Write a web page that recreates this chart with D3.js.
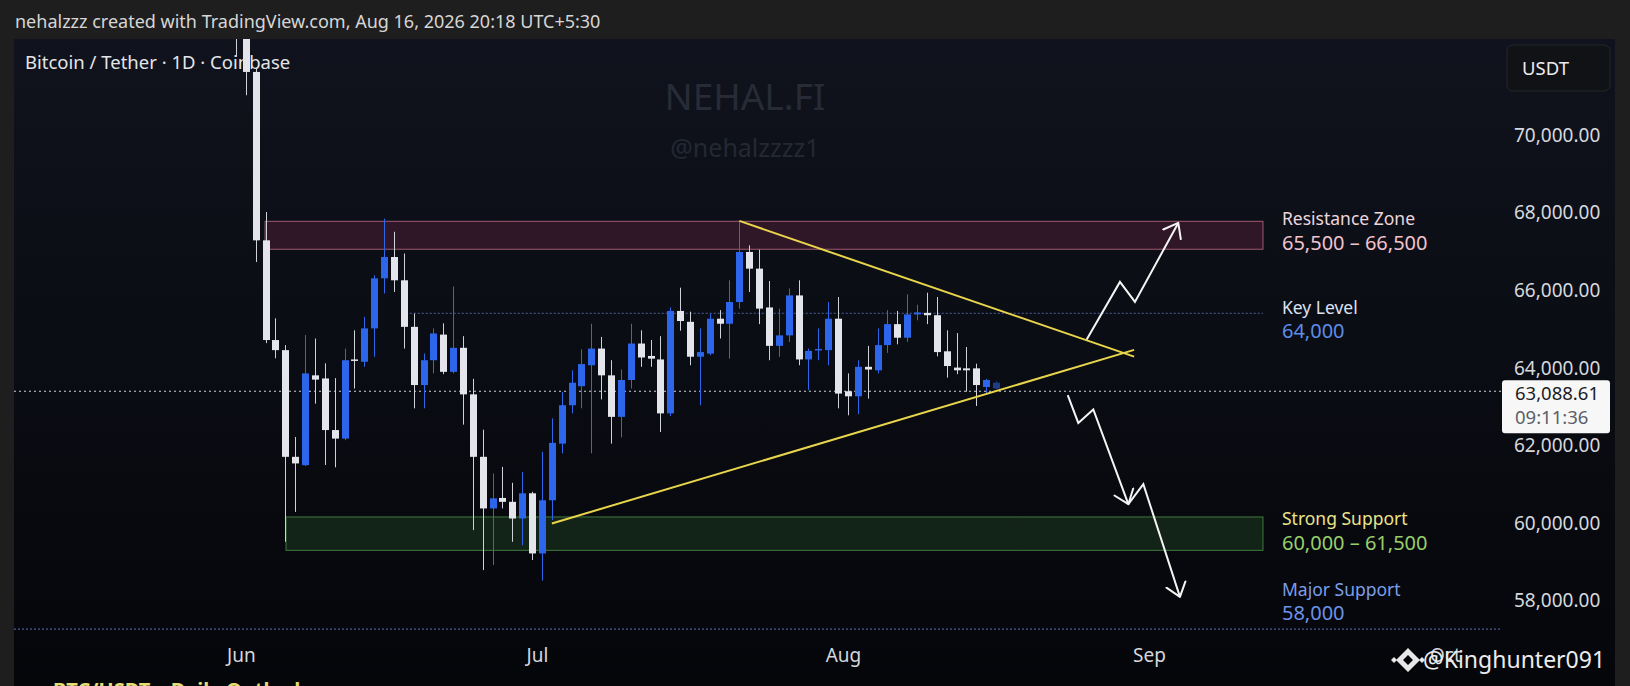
<!DOCTYPE html>
<html>
<head>
<meta charset="utf-8">
<script src="https://cdn.jsdelivr.net/npm/d3@7"></script>
<style>
  html, body { margin: 0; padding: 0; background: #1e1e1e; }
  svg { display: block; }
</style>
</head>
<body>
<svg width="1630" height="686"></svg>
<script>
    // daily BTC/USDT candles, first one is May 31
    const startDate = "2026-05-31";
    const opens  = [73600, 73000, 71610, 67270, 64700, 64440, 61690, 61475, 63790, 63710,
                    62380, 62160, 64200, 64140, 65000, 66290, 66840, 66240, 65040, 63540,
                    64180, 64840, 63880, 64500, 63300, 61690, 60360, 60630, 60530, 60100,
                    60750, 59200, 60570, 62030, 63020, 63510, 64050, 64480, 63790, 62720,
                    63670, 64610, 64290, 64200, 62810, 65450, 65170, 64270, 64350, 65250,
                    65120, 65680, 66970, 66540, 65540, 64550, 64820, 65850, 64200, 64440,
                    64440, 65250, 63380, 63250, 64010, 63920, 64570, 65110, 64760, 65360,
                    65400, 65340, 64410, 63990, 63970, 63970, 63490, 63450];
    const highs  = [74200, 73400, 71700, 68000, 65260, 64570, 62200, 64830, 64740, 64100,
                    63720, 64480, 64950, 65300, 66370, 67830, 67490, 66930, 65380, 64350,
                    65000, 65130, 66080, 64800, 63700, 62390, 61260, 61430, 61020, 61300,
                    60790, 61820, 62680, 63360, 63920, 64460, 65120, 64780, 64180, 63940,
                    65120, 64950, 64700, 64800, 65540, 66050, 65430, 65000, 65380, 65470,
                    66240, 67770, 67140, 67030, 66220, 65510, 66030, 66240, 64480, 65000,
                    65680, 65810, 63840, 64180, 64550, 65000, 65470, 65450, 65880, 65610,
                    65920, 65810, 64950, 64880, 64520, 64090, 63700, 63640];
    const lows   = [72000, 71010, 66710, 64620, 64230, 59500, 60270, 61450, 63060, 61480,
                    61420, 62120, 63450, 64010, 64270, 65900, 65940, 64480, 62940, 62940,
                    63840, 63820, 63840, 62520, 59800, 58770, 58900, 60360, 59500, 59410,
                    59030, 58500, 60060, 61780, 62810, 62940, 61780, 63170, 62030, 62190,
                    63450, 64010, 64010, 62330, 62740, 64940, 64050, 63020, 64310, 64740,
                    64220, 65510, 65940, 65110, 64180, 64270, 64650, 64050, 63410, 64180,
                    64050, 62940, 62760, 62790, 63190, 63840, 64370, 64590, 64650, 65210,
                    65110, 64280, 63730, 63820, 63370, 63000, 63320, 63430];
    const closes = [73200, 71610, 67270, 64700, 64440, 61690, 61520, 63840, 63680, 62380,
                    62160, 64180, 64180, 65000, 66290, 66840, 66240, 65040, 63540, 64180,
                    64870, 63880, 64500, 63300, 61690, 60360, 60620, 60530, 60100, 60750,
                    59200, 60570, 62050, 63020, 63600, 64080, 64480, 63790, 62720, 63670,
                    64610, 64250, 64220, 62810, 65450, 65190, 64270, 64390, 65250, 65120,
                    65680, 66970, 66540, 65510, 64550, 64820, 65850, 64200, 64420, 64470,
                    65250, 63320, 63250, 64010, 63940, 64570, 65110, 64760, 65360, 65410,
                    65340, 64390, 64030, 63920, 63920, 63540, 63670, 63600];

    const priceTicks = [58000, 60000, 62000, 64000, 66000, 68000, 70000];
    const monthTicks = ["2026-06-01", "2026-07-01", "2026-08-01", "2026-09-01", "2026-10-01"];

    // levels: [from day, to day, low, high] with days counted from startDate
    const resistanceZone = [2.95, 104.05, 67040, 67760];
    const supportZone    = [5.07, 104.05, 59280, 60140];
    const keyLevel       = [17.6, 104.05, 65390];
    const lastPrice      = 63380;
    const majorLine      = 57250;

    // triangle and projection arrows: [day, price]
    const upperTrend = [[51, 67770], [91, 64273]];
    const lowerTrend = [[32, 59972], [91, 64446]];
    const upArrow    = [[86.19, 64714], [89.56, 66198], [91.08, 65683], [95.47, 67719]];
    const downArrowA = [[84.27, 63278], [85.34, 62564], [86.86, 62910], [90.41, 60469]];
    const downArrowB = [[90.41, 60469], [91.93, 60985], [95.64, 58080]];

    const svg = d3.select("svg"),
          W = +svg.attr("width"),
          H = +svg.attr("height");

    const parseDate = d3.utcParse("%Y-%m-%d");
    const start = parseDate(startDate);
    const day = t => new Date(start.getTime() + t * 864e5);
    const dates = opens.map((d, i) => day(i));

    const x = d3.scaleUtc()
      .domain([start, parseDate("2026-10-01")])
      .range([236, 1450]);

    const y = d3.scaleLinear()
      .domain([58000, 70000])
      .range([600, 134.4]);

    const plotLeft = 14, plotRight = 1502, paneTop = 39;

    const defs = svg.append("defs");
    const grad = defs.append("linearGradient")
      .attr("id", "bg").attr("x1", 0).attr("y1", 0).attr("x2", 0).attr("y2", 1);
    grad.append("stop").attr("offset", "0%").attr("stop-color", "#10131d");
    grad.append("stop").attr("offset", "100%").attr("stop-color", "#05060a");

    defs.append("clipPath").attr("id", "plot")
      .append("rect")
      .attr("x", plotLeft).attr("y", paneTop)
      .attr("width", plotRight - plotLeft).attr("height", 612);

    defs.append("marker")
      .attr("id", "head")
      .attr("viewBox", "0 0 16 24")
      .attr("refX", 14).attr("refY", 12)
      .attr("markerWidth", 16).attr("markerHeight", 24)
      .attr("markerUnits", "userSpaceOnUse")
      .attr("orient", "auto")
      .append("path")
      .attr("d", "M1,2 L14,12 L1,22")
      .attr("fill", "none")
      .attr("stroke", "#f4f4f4")
      .attr("stroke-width", 2)
      .attr("stroke-linecap", "round")
      .attr("stroke-linejoin", "round");

    // frame
    svg.append("rect").attr("width", W).attr("height", H).attr("fill", "#1e1e1e");
    svg.append("rect")
      .attr("x", plotLeft).attr("y", paneTop)
      .attr("width", 1615 - plotLeft).attr("height", H - paneTop)
      .attr("fill", "url(#bg)");

    svg.append("text")
      .attr("x", 15).attr("y", 28)
      .attr("fill", "#d6d6d6")
      .style("font-family", "'Noto Sans', sans-serif")
      .style("font-size", "18px")
      .text("nehalzzz created with TradingView.com, Aug 16, 2026 20:18 UTC+5:30");

    // watermark
    svg.append("text")
      .attr("x", 745).attr("y", 110)
      .attr("text-anchor", "middle")
      .attr("fill", "#272b36")
      .style("font-family", "'Noto Sans', sans-serif")
      .style("font-size", "37px")
      .text("NEHAL.FI");
    svg.append("text")
      .attr("x", 745).attr("y", 157)
      .attr("text-anchor", "middle")
      .attr("fill", "#242833")
      .style("font-family", "'Noto Sans', sans-serif")
      .style("font-size", "25px")
      .text("@nehalzzzz1");

    const plot = svg.append("g").attr("clip-path", "url(#plot)");

    // zones
    plot.append("rect")
      .attr("x", x(day(resistanceZone[0])))
      .attr("y", y(resistanceZone[3]))
      .attr("width", x(day(resistanceZone[1])) - x(day(resistanceZone[0])))
      .attr("height", y(resistanceZone[2]) - y(resistanceZone[3]))
      .attr("fill", "rgba(125, 40, 75, 0.32)")
      .attr("stroke", "#9e5a72")
      .attr("stroke-width", 1);

    plot.append("rect")
      .attr("x", x(day(supportZone[0])))
      .attr("y", y(supportZone[3]))
      .attr("width", x(day(supportZone[1])) - x(day(supportZone[0])))
      .attr("height", y(supportZone[2]) - y(supportZone[3]))
      .attr("fill", "rgba(45, 95, 45, 0.3)")
      .attr("stroke", "#3f7a3c")
      .attr("stroke-width", 1);

    plot.append("line")
      .attr("x1", x(day(keyLevel[0]))).attr("x2", x(day(keyLevel[1])))
      .attr("y1", y(keyLevel[2])).attr("y2", y(keyLevel[2]))
      .attr("stroke", "#4f5f9e")
      .attr("stroke-width", 1)
      .attr("stroke-dasharray", "2,2");

    plot.append("line")
      .attr("x1", plotLeft).attr("x2", plotRight)
      .attr("y1", y(lastPrice)).attr("y2", y(lastPrice))
      .attr("stroke", "#cfd2da")
      .attr("stroke-width", 1)
      .attr("stroke-dasharray", "2,3");

    plot.append("line")
      .attr("x1", plotLeft).attr("x2", plotRight)
      .attr("y1", y(majorLine)).attr("y2", y(majorLine))
      .attr("stroke", "#4a5d98")
      .attr("stroke-width", 1.2)
      .attr("stroke-dasharray", "2,2");

    // candles
    const up = "#2d66ea", down = "#e3e5ea";
    const bw = 7;
    const last = opens.length - 1;
    const candle = plot.append("g")
      .selectAll("g")
      .data(d3.range(opens.length))
      .join("g")
      .attr("opacity", i => i === last ? 0.55 : 1);

    candle.append("line")
      .attr("x1", i => Math.round(x(dates[i])) + 0.5)
      .attr("x2", i => Math.round(x(dates[i])) + 0.5)
      .attr("y1", i => y(highs[i]))
      .attr("y2", i => y(lows[i]))
      .attr("stroke", i => closes[i] >= opens[i] ? up : "#cfd1d8")
      .attr("stroke-width", 1);

    candle.append("rect")
      .attr("x", i => Math.round(x(dates[i])) + 0.5 - bw / 2)
      .attr("y", i => y(Math.max(opens[i], closes[i])))
      .attr("width", bw)
      .attr("height", i => Math.max(1.5, Math.abs(y(opens[i]) - y(closes[i]))))
      .attr("fill", i => closes[i] >= opens[i] ? up : down);

    // triangle
    const line = d3.line()
      .x(d => x(day(d[0])))
      .y(d => y(d[1]));

    [upperTrend, lowerTrend].forEach(t => {
      plot.append("path")
        .datum(t)
        .attr("d", line)
        .attr("fill", "none")
        .attr("stroke", "#e8d54c")
        .attr("stroke-width", 2);
    });

    [upArrow, downArrowA, downArrowB].forEach(a => {
      plot.append("path")
        .datum(a)
        .attr("d", line)
        .attr("fill", "none")
        .attr("stroke", "#f4f4f4")
        .attr("stroke-width", 2)
        .attr("stroke-linejoin", "miter")
        .attr("marker-end", "url(#head)");
    });

    // zone labels
    const labelX = x(day(resistanceZone[1])) + 19;
    const labels = [
      {text: "Resistance Zone", y: y(resistanceZone[3]) + 3.5, size: 17.5, color: "#ecd6dd"},
      {text: "65,500 – 66,500", y: y(resistanceZone[3]) + 29, size: 20, color: "#f1c3cc"},
      {text: "Key Level", y: y(keyLevel[2]) + 0.5, size: 17.5, color: "#dde2f4"},
      {text: "64,000", y: y(keyLevel[2]) + 25, size: 20, color: "#5d8ce8"},
      {text: "Strong Support", y: y(supportZone[3]) + 8.5, size: 17.5, color: "#ebe38a"},
      {text: "60,000 – 61,500", y: y(supportZone[3]) + 33, size: 20, color: "#98cf6a"},
      {text: "Major Support", y: y(majorLine) - 33, size: 17.5, color: "#7c9ee6"},
      {text: "58,000", y: y(majorLine) - 9, size: 20, color: "#6c93e8"}
    ];
    svg.append("g").selectAll("text")
      .data(labels)
      .join("text")
      .attr("x", labelX)
      .attr("y", d => d.y)
      .attr("fill", d => d.color)
      .style("font-family", "'Noto Sans', sans-serif")
      .style("font-size", d => d.size + "px")
      .text(d => d.text);

    // price scale
    const yAxis = svg.append("g")
      .attr("transform", "translate(1514,0)")
      .call(d3.axisRight(y)
        .tickValues(priceTicks)
        .tickSize(0)
        .tickPadding(0)
        .tickFormat(d3.format(",.2f")));
    yAxis.select(".domain").remove();
    yAxis.selectAll("text")
      .attr("fill", "#d6d8de")
      .attr("dy", "0.36em")
      .style("font-family", "'Noto Sans', sans-serif")
      .style("font-size", "19px");

    svg.append("rect")
      .attr("x", 1507).attr("y", 45)
      .attr("width", 103).attr("height", 46)
      .attr("rx", 6)
      .attr("fill", "#111215")
      .attr("stroke", "#26272b");
    svg.append("text")
      .attr("x", 1522).attr("y", 75)
      .attr("fill", "#ececec")
      .style("font-family", "'Noto Sans', sans-serif")
      .style("font-size", "18.5px")
      .text("USDT");

    // last price tag
    svg.append("rect")
      .attr("x", 1502).attr("y", y(lastPrice) - 11)
      .attr("width", 108).attr("height", 53)
      .attr("rx", 3)
      .attr("fill", "#f7f7f7");
    svg.append("text")
      .attr("x", 1515).attr("y", y(lastPrice) + 8.5)
      .attr("fill", "#1b1d24")
      .style("font-family", "'Noto Sans', sans-serif")
      .style("font-size", "18.5px")
      .text("63,088.61");
    svg.append("text")
      .attr("x", 1515).attr("y", y(lastPrice) + 33)
      .attr("fill", "#5c5f68")
      .style("font-family", "'Noto Sans', sans-serif")
      .style("font-size", "18.5px")
      .text("09:11:36");

    // time scale
    const xAxis = svg.append("g")
      .attr("transform", "translate(0,648)")
      .call(d3.axisBottom(x)
        .tickValues(monthTicks.map(parseDate))
        .tickSize(0)
        .tickPadding(0)
        .tickFormat(d3.utcFormat("%b")));
    xAxis.select(".domain").remove();
    xAxis.selectAll("text")
      .attr("fill", "#d6d8de")
      .attr("dx", -5)
      .style("font-family", "'Noto Sans', sans-serif")
      .style("font-size", "19px");

    svg.append("text")
      .attr("x", 25).attr("y", 69)
      .attr("fill", "#e4e5e8")
      .style("font-family", "'Noto Sans', sans-serif")
      .style("font-size", "18.5px")
      .text("Bitcoin / Tether · 1D · Coinbase");

    // title line at the bottom, cut by the frame as in the snapshot
    svg.append("text")
      .attr("x", 53).attr("y", 697)
      .attr("fill", "#e6de74")
      .style("font-family", "'Noto Sans', sans-serif")
      .style("font-size", "20px")
      .style("font-weight", "bold")
      .text("BTC/USDT – Daily Outlook");

    // binance square watermark
    const logo = svg.append("g")
      .attr("transform", "translate(1408,660)")
      .attr("fill", "#e8e8e8");
    logo.append("path")
      .attr("fill-rule", "evenodd")
      .attr("d", "M0,-12 L12,0 L0,12 L-12,0 Z M0,-5 L5,0 L0,5 L-5,0 Z");
    logo.append("path").attr("d", "M-17,0 L-14,-3 L-11,0 L-14,3 Z");
    logo.append("path").attr("d", "M17,0 L14,-3 L11,0 L14,3 Z");
    svg.append("text")
      .attr("x", 1423).attr("y", 668)
      .attr("fill", "#ececec")
      .style("font-family", "'Noto Sans', sans-serif")
      .style("font-size", "23px")
      .text("@Kinghunter091");
</script>
</body>
</html>
